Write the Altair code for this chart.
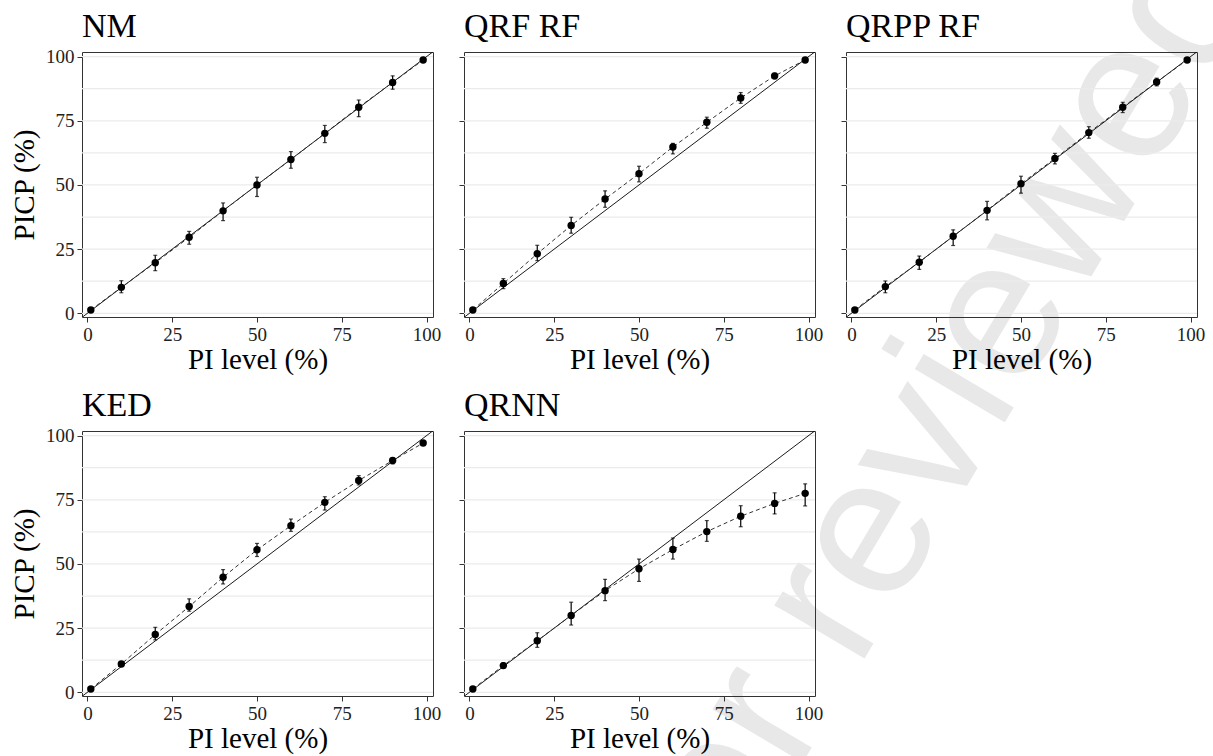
import altair as alt
import pandas as pd

SERIF = "Liberation Serif"

levels = [1, 10, 20, 30, 40, 50, 60, 70, 80, 90, 99]

names = ["NM", "QRF RF", "QRPP RF", "KED", "QRNN"]

NM_y = [1.3, 10.1, 19.7, 29.6, 39.9, 50.0, 59.9, 70.1, 80.3, 89.9, 98.7]
NM_lo = [0.8, 8.0, 16.6, 26.9, 36.1, 45.5, 56.5, 66.5, 76.6, 87.3, 98.2]
NM_hi = [1.8, 12.7, 22.6, 31.9, 43.0, 53.0, 63.0, 73.2, 83.1, 92.5, 99.2]

QRF_y = [1.3, 11.6, 23.2, 34.2, 44.5, 54.4, 64.8, 74.4, 83.9, 92.5, 98.7]
QRF_lo = [0.8, 9.6, 20.5, 31.2, 41.3, 51.2, 62.1, 72.1, 81.8, 91.3, 98.2]
QRF_hi = [1.8, 13.5, 26.5, 37.4, 47.7, 57.3, 66.2, 76.4, 86.0, 93.5, 99.2]

QRPP_y = [1.3, 10.4, 19.9, 30.0, 40.1, 50.5, 60.3, 70.4, 80.3, 90.1, 98.7]
QRPP_lo = [0.8, 8.0, 17.1, 26.4, 36.4, 46.8, 58.2, 68.2, 78.2, 88.6, 98.2]
QRPP_hi = [1.8, 12.6, 22.3, 32.5, 43.6, 53.4, 62.3, 72.7, 82.2, 91.6, 99.2]

KED_y = [1.3, 11.0, 22.5, 33.4, 44.8, 55.5, 64.9, 74.0, 82.5, 90.3, 97.1]
KED_lo = [0.8, 10.3, 20.4, 31.6, 42.2, 52.9, 62.7, 71.0, 80.8, 89.0, 96.6]
KED_hi = [1.8, 11.7, 25.3, 36.4, 47.8, 58.0, 67.5, 76.2, 84.4, 91.3, 97.6]

QRNN_y = [1.3, 10.4, 20.1, 29.9, 39.6, 48.1, 55.6, 62.6, 68.6, 73.6, 77.5]
QRNN_lo = [0.8, 9.4, 17.5, 26.2, 35.7, 43.2, 51.9, 58.8, 64.5, 69.5, 72.6]
QRNN_hi = [1.8, 11.5, 23.2, 35.1, 44.0, 51.9, 60.1, 66.9, 72.7, 77.7, 81.2]

x_ticks = [0, 25, 50, 75, 100]
y_ticks = [0, 25, 50, 75, 100]
grid_vals = [0, 12.5, 25, 37.5, 50, 62.5, 75, 87.5, 100]
diag_vals = [-5, 105]
watermark = ["Preprint not peer reviewed"]

XDOM = [-1.6, 101.9]
YDOM = [-1.45, 101.8]

series = [
    (NM_y, NM_lo, NM_hi),
    (QRF_y, QRF_lo, QRF_hi),
    (QRPP_y, QRPP_lo, QRPP_hi),
    (KED_y, KED_lo, KED_hi),
    (QRNN_y, QRNN_lo, QRNN_hi),
]


def panel(title, ys, lo, hi, left, with_watermark=False):
    df = pd.DataFrame({"x": levels, "y": ys, "lo": lo, "hi": hi})
    xs = alt.Scale(domain=XDOM, nice=False, zero=False)
    yscl = alt.Scale(domain=YDOM, nice=False, zero=False)
    xax = alt.Axis(values=x_ticks, title="PI level (%)", grid=False, domain=False,
                   tickSize=5, labelFontSize=19, titleFontSize=29, labelPadding=3,
                   titlePadding=1, labelFlush=False)
    if left:
        yax = alt.Axis(values=y_ticks, title="PICP (%)", grid=False, domain=False,
                       tickSize=5, labelFontSize=19, titleFontSize=29, labelPadding=3,
                       titlePadding=6)
    else:
        yax = alt.Axis(values=y_ticks, title=None, labels=False, grid=False,
                       domain=False, tickSize=5)

    X = lambda f: alt.X(f, scale=xs, axis=xax)
    Y = lambda f: alt.Y(f, scale=yscl, axis=yax)

    layers = []
    if with_watermark:
        layers.append(
            alt.Chart(pd.DataFrame({"t": watermark})).mark_text(
                align="right", baseline="alphabetic", angle=300.7,
                font="Liberation Sans", fontSize=198, color="#e8e8e8",
            ).encode(x=alt.value(1180), y=alt.value(-63), text="t:N")
        )

    grid = alt.Chart(pd.DataFrame({"g": grid_vals})).mark_rule(
        color="#ebebeb", strokeWidth=1.3
    ).encode(y=Y("g:Q"))

    diag = alt.Chart(pd.DataFrame({"d": diag_vals})).mark_line(
        color="black", strokeWidth=0.9, clip=True
    ).encode(x=X("d:Q"), y=Y("d:Q"))

    line = alt.Chart(df).mark_line(
        color="#333333", strokeWidth=1.0, strokeDash=[4, 3]
    ).encode(x=X("x:Q"), y=Y("y:Q"))

    err = alt.Chart(df).mark_errorbar(
        ticks={"size": 4}, color="black", thickness=1.2
    ).encode(x=X("x:Q"), y=Y("lo:Q"), y2="hi:Q")

    pts = alt.Chart(df).mark_circle(size=55, color="black", opacity=1).encode(
        x=X("x:Q"), y=Y("y:Q")
    )

    ttl = alt.Chart(pd.DataFrame({"t": [title]})).mark_text(
        align="left", baseline="alphabetic", font=SERIF, fontSize=34, color="black"
    ).encode(x=alt.value(0), y=alt.value(-15), text="t:N")

    layers += [grid, diag, line, err, pts, ttl]
    return alt.layer(*layers).properties(width=351, height=265)


panels = [
    panel(n, *s, left=(i % 3 == 0), with_watermark=(i == 0))
    for i, (n, s) in enumerate(zip(names, series))
]

chart = alt.concat(
    *panels, columns=3, spacing={"row": 114, "column": 31}, bounds="flush"
).properties(
    autosize=alt.AutoSizeParams(type="none"),
    padding={"left": 82, "top": 52, "right": 1131, "bottom": 704},
    background="white",
).configure_view(
    stroke="#333333", strokeWidth=1
).configure_axis(
    labelFont=SERIF, titleFont=SERIF, labelColor="#222222", titleColor="black",
    tickColor="#333333", titleFontWeight="normal", tickWidth=1,
)

chart.save("out.html", embed_options={"renderer": "svg", "actions": False})
